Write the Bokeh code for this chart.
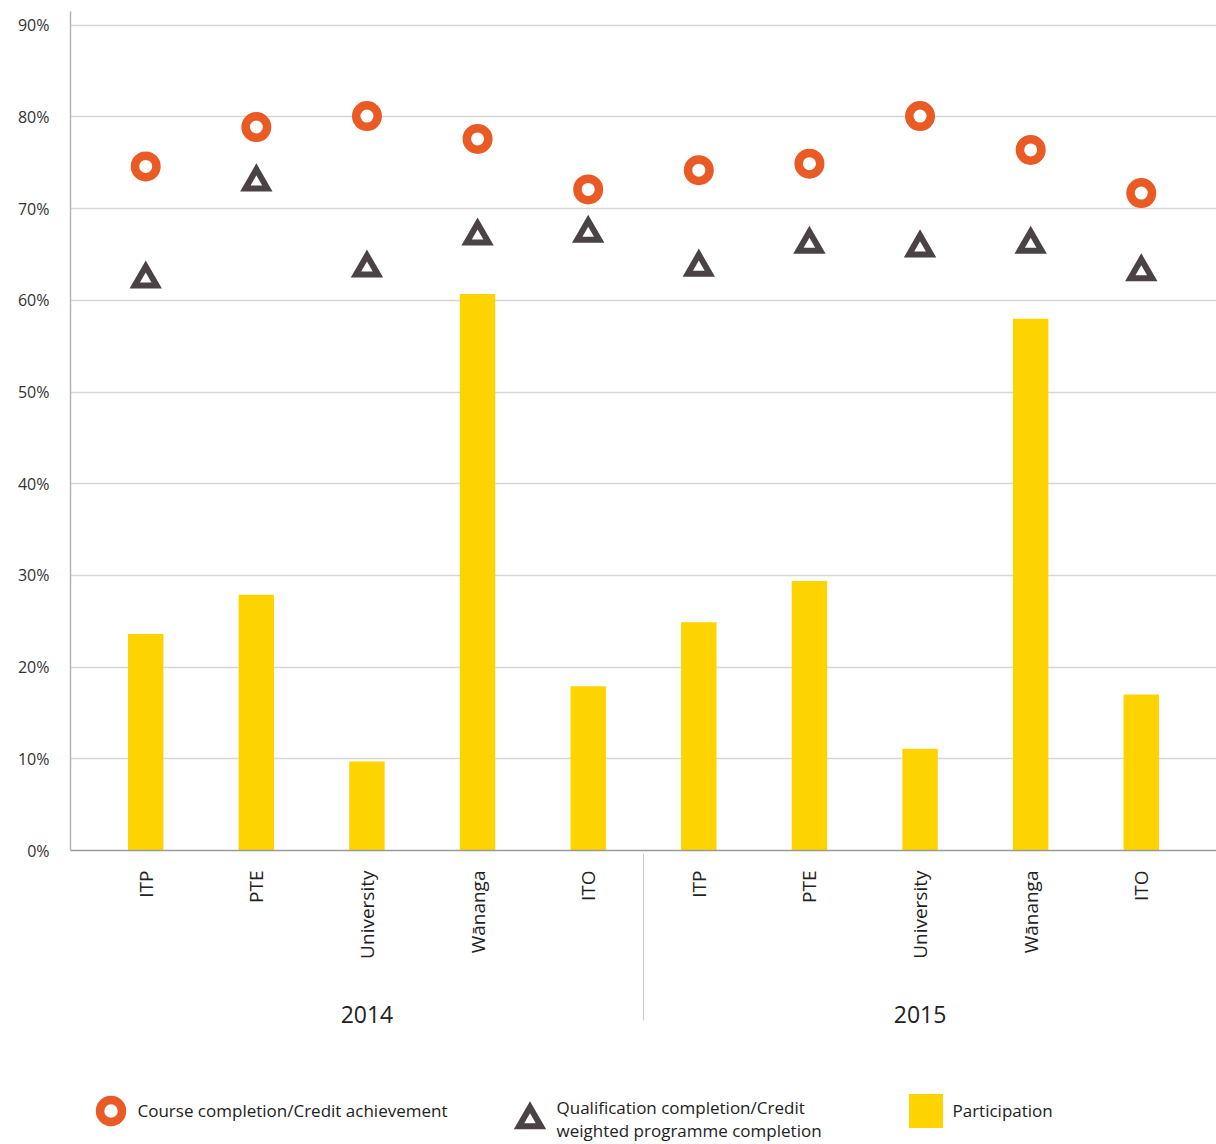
import math
from bokeh.plotting import figure
from bokeh.models import (ColumnDataSource, FactorRange, Range1d, FixedTicker,
                          PrintfTickFormatter, Legend, LegendItem)
from bokeh.layouts import column
from bokeh.embed import file_html
from bokeh.resources import INLINE

years = ["2014", "2015"]
sectors = ["ITP", "PTE", "University", "Wānanga", "ITO"]
course_completion = [74.6, 78.9, 80.1, 77.6, 72.1, 74.2, 74.9, 80.1, 76.4, 71.7]
qualification_completion = [62.3, 72.9, 63.5, 67.0, 67.3, 63.6, 66.1, 65.7, 66.1, 63.1]
participation = [23.6, 27.9, 9.7, 60.7, 17.9, 24.9, 29.4, 11.1, 58.0, 17.0]
y_ticks = [0, 10, 20, 30, 40, 50, 60, 70, 80, 90]

labels = ["Course completion/Credit achievement",
          "Qualification completion/Credit\nweighted programme completion",
          "Participation"]

ORANGE = "#E95A24"
GREY = "#4B4246"
YELLOW = "#FDD300"
FONT = "Open Sans"

# middle (blank) level is only a spacer between sector and year labels
factors = [(y, " ", s) for y in years for s in sectors]
src = ColumnDataSource(dict(x=factors, course=course_completion,
                            qual=qualification_completion, part=participation))

p = figure(x_range=FactorRange(*factors, group_padding=0, subgroup_padding=0,
                               range_padding=0.036),
           y_range=Range1d(0, 91.5), width=1216, height=1060,
           output_backend="svg", toolbar_location=None,
           min_border_left=70, min_border_right=0, min_border_top=11,
           min_border_bottom=210)
p.outline_line_color = None

p.vbar(x="x", top="part", width=0.32, source=src, fill_color=YELLOW,
       line_color=None)
p.scatter(x="x", y="qual", source=src, marker="triangle", size=22,
          line_width=6, line_color=GREY, fill_color="white", line_join="miter")
p.scatter(x="x", y="course", source=src, marker="circle", size=21.5,
          line_width=8.5, line_color=ORANGE, fill_color="white")

# grid
p.xgrid.grid_line_color = None
p.ygrid.ticker = FixedTicker(ticks=y_ticks)
p.ygrid.grid_line_color = "#d6d6d6"
p.ygrid.grid_line_width = 1.5

# y axis
p.yaxis.ticker = FixedTicker(ticks=y_ticks)
p.yaxis.formatter = PrintfTickFormatter(format="%d%%")
p.yaxis.major_tick_line_color = None
p.yaxis.minor_tick_line_color = None
p.yaxis.major_tick_out = 0
p.yaxis.major_label_standoff = 21
p.yaxis.axis_line_color = "#b5b5b5"
p.yaxis.axis_line_width = 1.5
p.yaxis.major_label_text_font = FONT
p.yaxis.major_label_text_font_size = "16px"
p.yaxis.major_label_text_color = "#333333"

# x axis
xa = p.xaxis[0]
xa.axis_line_color = "#9a9a9a"
xa.axis_line_width = 1.5
xa.major_tick_line_color = None
xa.minor_tick_line_color = None
xa.major_tick_out = 0
xa.major_label_orientation = math.pi / 2
xa.major_label_standoff = 20
xa.major_label_text_font = FONT
xa.major_label_text_font_size = "19px"
xa.major_label_text_color = "#222222"
xa.subgroup_text_font = FONT
xa.subgroup_text_font_size = "1px"
xa.group_text_font = FONT
xa.group_text_font_size = "23px"
xa.group_text_color = "#222222"
xa.group_text_font_style = "normal"
xa.separator_line_color = "#cccccc"
xa.separator_line_width = 1

# legend figure
lf = figure(width=1216, height=84, output_backend="svg", toolbar_location=None,
            x_range=Range1d(0, 1), y_range=Range1d(0, 1),
            min_border=0, x_axis_location=None, y_axis_location=None)
lf.outline_line_color = None
lf.grid.visible = False
proxy = ColumnDataSource(dict(x=[float("nan")], y=[float("nan")]))
r1 = lf.scatter(x="x", y="y", source=proxy, marker="circle", size=21.5,
                line_width=8.5, line_color=ORANGE, fill_color="white")
r2 = lf.scatter(x="x", y="y", source=proxy, marker="triangle", size=22,
                line_width=6, line_color=GREY, fill_color="white", line_join="miter")
r3 = lf.scatter(x="x", y="y", source=proxy, marker="square", size=22,
                line_width=12, line_color=YELLOW, fill_color=YELLOW,
                line_join="miter")

for r, lab, loc in [(r1, labels[0], (12.5, 6.5)), (r2, labels[1], (431.5, -2.5)),
                    (r3, labels[2], (827.5, 6.5))]:
    lg = Legend(items=[LegendItem(label=lab, renderers=[r])], location=loc,
                glyph_width=55, glyph_height=55, label_standoff=0,
                padding=0, margin=0, border_line_color=None,
                background_fill_alpha=0, label_text_font=FONT,
                label_text_font_size="17px", label_text_color="#222222",
                label_text_line_height=1.35)
    lf.add_layout(lg)

layout = column(p, lf, spacing=0)
open("out.html", "w").write(file_html(layout, INLINE))
